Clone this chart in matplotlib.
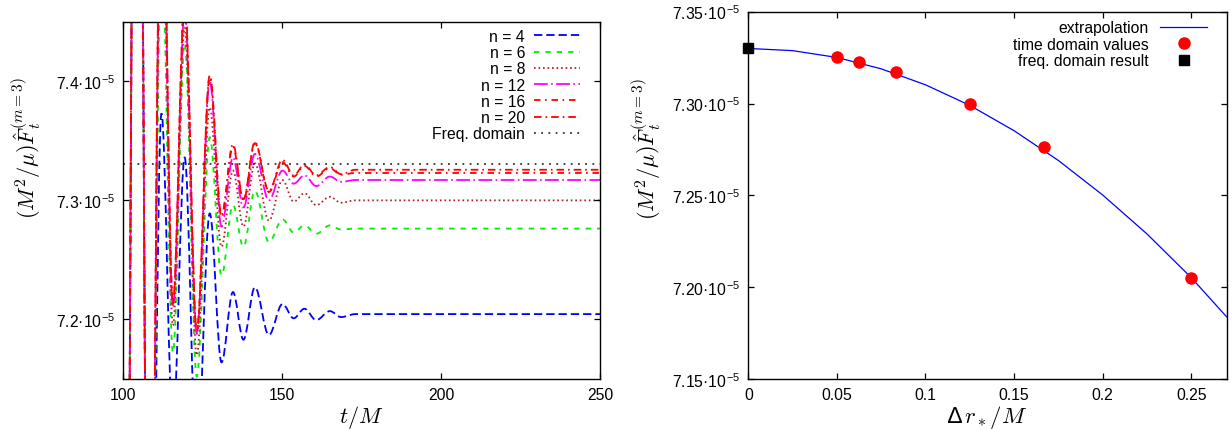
import matplotlib
matplotlib.use('Agg')
import matplotlib.pyplot as plt
import numpy as np
from matplotlib.path import Path
from matplotlib.patches import PathPatch
from matplotlib.lines import Line2D
from matplotlib.ticker import FuncFormatter

plt.rcParams['font.family'] = ['Liberation Sans', 'DejaVu Sans']
plt.rcParams['mathtext.fontset'] = 'cm'
plt.rcParams['axes.unicode_minus'] = False

# ---- left panel: turning points of the time domain runs (units of 1e-5)
t_turn = [100.0, 104.4, 108.2, 112.0, 115.6, 119.3, 123.1, 127.2, 130.9, 134.5, 137.8,
          141.4, 145.8, 150.1, 153.6, 157.0, 160.7, 165.0, 168.5, 173.0, 250.0]
f_n4 = [6.5, 8.0, 6.8, 7.373, 7.11, 7.336, 7.08, 7.289, 7.164, 7.223, 7.183,
        7.227, 7.187, 7.213, 7.201, 7.209, 7.1995, 7.207, 7.202, 7.2045, 7.2045]
f_n6 = [6.5, 8.0, 6.8, 7.52, 7.172, 7.432, 7.152, 7.353, 7.237, 7.296, 7.261,
        7.308, 7.265, 7.284, 7.273, 7.279, 7.272, 7.279, 7.2755, 7.2763, 7.2763]
f_n8 = [6.5, 8.0, 6.8, 7.58, 7.195, 7.445, 7.17, 7.378, 7.261, 7.325, 7.278,
        7.331, 7.283, 7.317, 7.299, 7.306, 7.296, 7.303, 7.298, 7.300, 7.300]
f_n12 = [6.5, 8.0, 6.8, 7.61, 7.21, 7.458, 7.188, 7.400, 7.278, 7.336, 7.294,
         7.339, 7.300, 7.325, 7.314, 7.321, 7.312, 7.320, 7.3155, 7.3171, 7.3171]
f_n16 = [6.5, 8.0, 6.8, 7.62, 7.213, 7.465, 7.19, 7.403, 7.286, 7.345, 7.300,
         7.348, 7.307, 7.332, 7.320, 7.329, 7.320, 7.327, 7.3215, 7.323, 7.323]
f_n20 = [6.5, 8.0, 6.8, 7.62, 7.215, 7.47, 7.192, 7.405, 7.288, 7.347, 7.301,
         7.349, 7.308, 7.334, 7.321, 7.330, 7.321, 7.328, 7.322, 7.3257, 7.3257]
f_freq = 7.3303
runs = [f_n4, f_n6, f_n8, f_n12, f_n16, f_n20]
run_labels = ['n = 4', 'n = 6', 'n = 8', 'n = 12', 'n = 16', 'n = 20']
run_colors = ['#0000ff', '#00ee00', '#b02020', '#ff00ff', '#ff0000', '#ff0000']
run_dash = [(0, (4.6, 2.2)), (0, (2.9, 3.4)), (0, (0.9, 1.6)), (0, (7.6, 1.9, 0.9, 1.9)),
            (0, (3.6, 2.5, 0.9, 2.7)), (0, (4.2, 2.2, 0.9, 2.2))]

# ---- right panel
dr = [0.05, 0.0625, 0.0833, 0.125, 0.1667, 0.25]
f_td = [7.3255, 7.3228, 7.3170, 7.3000, 7.2761, 7.2051]
dr_fd = [0.0]
f_fd = [7.3301]
dr_fit = [0.0, 0.025, 0.05, 0.075, 0.1, 0.125, 0.15, 0.175, 0.2, 0.225, 0.25, 0.27]
f_fit = [7.3300, 7.3288, 7.3251, 7.3189, 7.3102, 7.2990, 7.2852, 7.2690, 7.2502,
         7.2290, 7.2052, 7.1838]


def smooth_path(t, f):
    # cubic pieces between turning points, flat at each turning point
    verts = [(t[0], f[0])]
    codes = [Path.MOVETO]
    for i in range(1, len(t)):
        h = 0.36 * (t[i] - t[i - 1])
        verts += [(t[i - 1] + h, f[i - 1]), (t[i] - h, f[i]), (t[i], f[i])]
        codes += [Path.CURVE4] * 3
    return Path(verts, codes)


def style_axes(ax):
    ax.tick_params(direction='in', length=4.5, width=0.9, top=True, right=True,
                   labelsize=11.3, pad=6)
    for s in ax.spines.values():
        s.set_linewidth(1.0)


fig = plt.figure(figsize=(12.32, 4.31), dpi=100)
ax1 = fig.add_axes([0.1001, 0.1183, 0.3869, 0.829])
ax2 = fig.add_axes([0.6074, 0.1183, 0.3883, 0.8522])

handles = []
for k, f in enumerate(runs):
    ax1.add_patch(PathPatch(smooth_path(t_turn, f), fill=False, edgecolor=run_colors[k],
                            linestyle=run_dash[k], lw=1.3))
    handles.append(Line2D([], [], color=run_colors[k], linestyle=run_dash[k], lw=1.3))
ax1.axhline(f_freq, color='#333333', linestyle=(0, (1.0, 3.0)), lw=1.3)
handles.append(Line2D([], [], color='#333333', linestyle=(0, (1.0, 3.0)), lw=1.3))

ax1.set_xlim(100, 250)
ax1.set_ylim(7.15, 7.45)
ax1.set_xticks([100, 150, 200, 250])
ax1.set_yticks([7.2, 7.3, 7.4])
ax1.yaxis.set_major_formatter(FuncFormatter(lambda v, p: '%.1f·10$^{\\mathregular{-5}}$' % v))
style_axes(ax1)
ax1.set_xlabel(r'$t/M$', fontsize=16)
ax1.set_ylabel(r'$(M^2/\mu)\hat{F}_t^{(m=3)}$', fontsize=16)
ax1.xaxis.set_label_coords(0.5, -0.067)
ax1.yaxis.set_label_coords(-0.168, 0.65)
ax1.legend(handles, run_labels + ['Freq. domain'], loc='upper right',
           bbox_to_anchor=(0.958, 0.98), frameon=False, markerfirst=False,
           fontsize=11.3, handlelength=2.9, handletextpad=0.6, labelspacing=0.08,
           borderpad=0, borderaxespad=0)

ax2.plot(dr_fit, f_fit, color='#0000ff', lw=0.9, label='extrapolation')
ax2.plot(dr, f_td, linestyle='None', marker='o', ms=8, color='#ff0000', label='time domain values')
ax2.plot(dr_fd, f_fd, linestyle='None', marker='s', ms=7.6, color='black',
         label='freq. domain result', clip_on=False, zorder=5)
ax2.set_xlim(0, 0.27)
ax2.set_ylim(7.15, 7.35)
ax2.set_xticks([0, 0.05, 0.1, 0.15, 0.2, 0.25])
ax2.set_yticks([7.15, 7.2, 7.25, 7.3, 7.35])
ax2.xaxis.set_major_formatter(FuncFormatter(lambda v, p: '%g' % v))
ax2.yaxis.set_major_formatter(FuncFormatter(lambda v, p: '%.2f·10$^{\\mathregular{-5}}$' % v))
style_axes(ax2)
ax2.set_xlabel('\u2206$\\,r_*/M$', fontsize=16.5)
ax2.set_ylabel(r'$(M^2/\mu)\hat{F}_t^{(m=3)}$', fontsize=16)
ax2.xaxis.set_label_coords(0.5, -0.065)
ax2.yaxis.set_label_coords(-0.178, 0.629)
ax2.legend(loc='upper right', bbox_to_anchor=(0.959, 0.977), frameon=False, markerfirst=False,
           fontsize=11.3, handlelength=3.0, handletextpad=0.7, labelspacing=0.1,
           borderpad=0, borderaxespad=0, numpoints=1)

fig.savefig('out.png', dpi=100)
